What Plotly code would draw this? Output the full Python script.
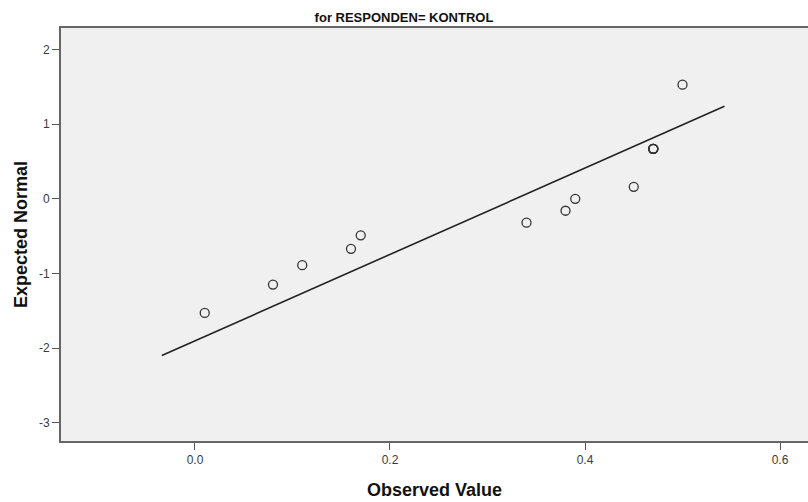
import plotly.graph_objects as go

# Data (Normal Q-Q plot, RESPONDEN = KONTROL)
observed_values = [0.01, 0.08, 0.11, 0.16, 0.17, 0.34, 0.38, 0.39, 0.45,
                   0.47, 0.47, 0.47, 0.47, 0.47, 0.50]
expected_normal = [-1.53, -1.15, -0.89, -0.67, -0.49, -0.32, -0.16, 0.00, 0.16,
                   0.67, 0.67, 0.67, 0.67, 0.67, 1.53]
line_x = [-0.034, 0.543]
line_y = [-2.10, 1.24]
x_ticks = [0.0, 0.2, 0.4, 0.6]
x_tick_labels = ["0.0", "0.2", "0.4", "0.6"]
y_ticks = [2, 1, 0, -1, -2, -3]
y_tick_labels = ["2", "1", "0", "-1", "-2", "-3"]

fig = go.Figure()
fig.add_trace(go.Scatter(
    x=line_x, y=line_y, mode="lines",
    line=dict(color="#222222", width=1.6),
    hoverinfo="skip", showlegend=False,
))
fig.add_trace(go.Scatter(
    x=observed_values, y=expected_normal, mode="markers",
    marker=dict(symbol="circle-open", size=9, color="#333333",
                line=dict(width=1.3, color="#333333")),
    showlegend=False,
))

tick_font = dict(family="Liberation Sans Narrow, Liberation Sans, Arial", size=12, color="#3a3a3a")
title_font = dict(family="Liberation Sans, Arial", size=18, color="#111111")

fig.update_layout(
    width=808, height=502,
    margin=dict(l=61, r=0, t=28, b=61, autoexpand=False),
    paper_bgcolor="white",
    plot_bgcolor="#f0f0f0",
    title=dict(
        text="<b>for RESPONDEN= KONTROL</b>",
        x=0.5, xref="container", xanchor="center",
        y=1 - 17 / 502, yref="container", yanchor="middle",
        font=dict(family="Liberation Sans, Arial", size=13, color="#111111"),
        automargin=False,
    ),
    xaxis=dict(
        range=[-0.1374, 0.6287],
        tickmode="array", tickvals=x_ticks, ticktext=x_tick_labels,
        ticks="outside", ticklen=7, tickwidth=1.2, tickcolor="#555555",
        showgrid=False, zeroline=False,
        showline=True, linecolor="#666666", linewidth=2, mirror=True,
        tickfont=tick_font, automargin=False,
        title=dict(text="<b>Observed Value</b>", font=title_font, standoff=17),
    ),
    yaxis=dict(
        range=[-3.246, 2.289],
        tickmode="array", tickvals=y_ticks, ticktext=y_tick_labels,
        ticks="outside", ticklen=7, tickwidth=1.2, tickcolor="#555555",
        showgrid=False, zeroline=False,
        showline=True, linecolor="#666666", linewidth=2, mirror=False,
        tickfont=tick_font, automargin=False,
        title=dict(text="<b>Expected Normal</b>", font=title_font, standoff=7),
    ),
)

fig.write_html(
    "out.html",
    config={"displayModeBar": False},
    post_script="document.body.style.margin='0';document.body.style.overflow='hidden';",
)
